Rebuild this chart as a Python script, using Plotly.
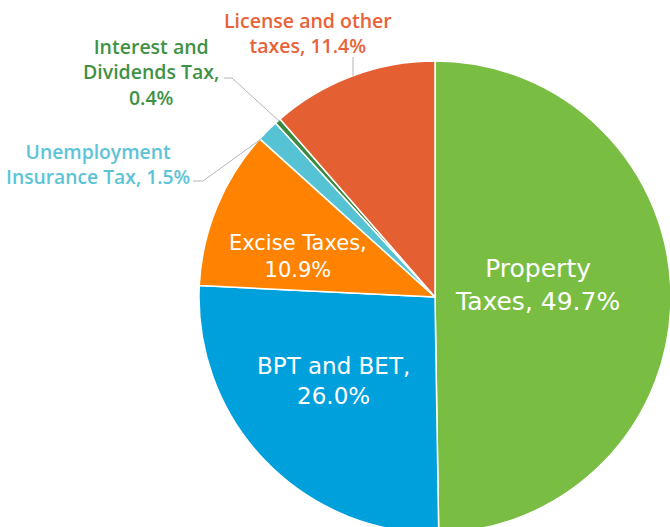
import plotly.graph_objects as go

# ---- data ----
categories = ["Property Taxes", "BPT and BET", "Excise Taxes",
              "Unemployment Insurance Tax", "Interest and Dividends Tax",
              "License and other taxes"]
values = [49.7, 26.0, 10.9, 1.5, 0.4, 11.4]
label_texts = ["Property<br>Taxes, 49.7%", "BPT and BET,<br>26.0%",
               "Excise Taxes,<br>10.9%", "Unemployment<br>Insurance Tax, 1.5%",
               "Interest and<br>Dividends Tax,<br>0.4%",
               "License and other<br>taxes, 11.4%"]
colors = ["#7ABD43", "#00A0DD", "#FF8300", "#55C3D4", "#3B8A3F", "#E46032"]

# ---- layout helpers (pixel -> paper) ----
W, H = 672, 534
def px(x):
    return x / W
def py(y):
    return 1 - y / H

fig = go.Figure(go.Pie(
    labels=categories, values=values, sort=False, direction="clockwise",
    rotation=0, textinfo="none", hoverinfo="label+percent",
    marker=dict(colors=colors, line=dict(color="white", width=1.5)),
    domain=dict(x=[px(199), px(671)], y=[py(533), py(61)]),
    showlegend=False,
))

# label placement: (x_px, y_px, size, color, weight, family)
inner = "DejaVu Sans"
outer = "Open Sans"
label_style = [
    (537, 284.5, 25, "white", 400, inner),
    (333, 381, 23, "white", 400, inner),
    (297.5, 256, 21, "white", 400, inner),
    (97.5, 163.5, 19.3, "#5BC4D6", 600, outer),
    (151, 72, 19.5, "#3F9245", 600, outer),
    (308, 33, 19.5, "#E8633A", 600, outer),
]
for txt, (x, y, s, c, w, f) in zip(label_texts, label_style):
    fig.add_annotation(x=px(x), y=py(y), xref="paper", yref="paper",
                       text=txt, showarrow=False, xanchor="center",
                       yanchor="middle", align="center",
                       font=dict(family=f, size=s, color=c, weight=w))

# leader lines
leaders = [
    [(353, 57), (353, 76)],
    [(224, 78), (232, 78), (279, 121)],
    [(193, 181), (203, 181), (261, 139)],
]
for pts in leaders:
    path = "M " + " L ".join(f"{px(x)},{py(y)}" for x, y in pts)
    fig.add_shape(type="path", path=path, xref="paper", yref="paper",
                  line=dict(color="#B5B5B5", width=1))

fig.update_layout(width=W, height=H, margin=dict(l=0, r=0, t=0, b=0),
                  paper_bgcolor="white", plot_bgcolor="white")

post = ("document.documentElement.style.overflow='hidden';"
        "document.body.style.overflow='hidden';"
        "document.body.style.margin='0';")
fig.write_html("out.html", post_script=post,
               config={"displayModeBar": False})
